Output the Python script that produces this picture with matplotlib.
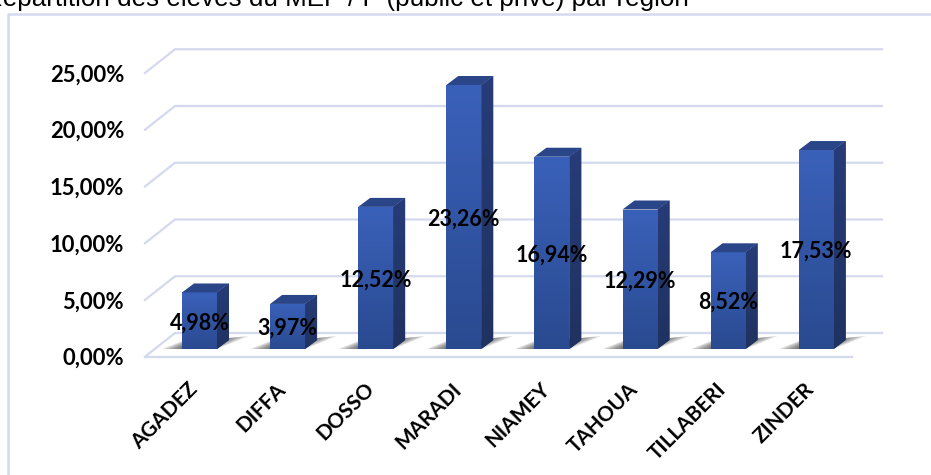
import matplotlib
matplotlib.use('Agg')
import matplotlib.pyplot as plt
import numpy as np
from matplotlib.patches import Polygon

regions = ['AGADEZ', 'DIFFA', 'DOSSO', 'MARADI', 'NIAMEY', 'TAHOUA', 'TILLABERI', 'ZINDER']
values = [4.98, 3.97, 12.52, 23.26, 16.94, 12.29, 8.52, 17.53]
y_ticks = [0, 5, 10, 15, 20, 25]
title = 'Répartition des élèves du MEP / P (public et privé) par région'

W, H = 931, 475
PX_STEP = 88.1   # pixels between two bars
PX_UNIT = 11.35  # pixels for one percent
X0, Y0 = 199.5, 349   # first bar centre, bar foot


def pct(v):
    return ('%.2f%%' % v).replace('.', ',')


plt.rcParams['font.family'] = 'Lato'
fig = plt.figure(figsize=(W / 100, H / 100), dpi=100)
ax = fig.add_axes([0, 0, 1, 1])
ax.axis('off')

dx = lambda px: px / PX_STEP
dy = lambda px: px / PX_UNIT
x_left, x_right = dx(145 - X0), dx(882 - X0)
grid_col = '#d5d9ee'

# frame, runs off the right edge like the original
ax.plot([dx(7.5 - X0), dx(7.5 - X0), dx(W + 5 - X0)], [dy(Y0 - H - 5), dy(Y0 - 14), dy(Y0 - 14)],
        color=grid_col, lw=1.8, zorder=1)

# floor and gridlines
depth_x, depth_y = dx(30), dy(23.7)
front_off = dy(-7.7)
for v in y_ticks:
    ax.plot([x_left, x_left + depth_x, x_right], [v + front_off, v + front_off + depth_y, v + front_off + depth_y],
            color=grid_col, lw=1.6, zorder=1)
    ax.text(x_left - dx(21), v + front_off - dy(2), pct(v), ha='right', va='center',
            fontsize=15.8, fontweight='bold', color='#000000', zorder=5)
ax.plot([x_left, x_right - depth_x], [front_off, front_off], color=grid_col, lw=1.6, zorder=1)

# bars
w = dx(35)
grad = np.linspace(0, 1, 100).reshape(-1, 1)
cmap = matplotlib.colors.LinearSegmentedColormap.from_list('bar', ['#3a61ba', '#2a4a90'])
side_cmap = matplotlib.colors.LinearSegmentedColormap.from_list('side', ['#273c78', '#1f3260'])
ox, oy = dx(12), dy(9)
for i, v in enumerate(values):
    # soft shadow on the floor, stacked polygons shrinking towards the bar
    shadow = np.array([(-w / 2 - dx(20), 0), (w / 2, 0), (w / 2 + dx(32), dy(13)),
                       (w / 2 + dx(10), dy(11)), (-w / 2, dy(8))])
    for k in range(7):
        s = 1 - k * 0.08
        pts = np.column_stack([i + shadow[:, 0] * s, shadow[:, 1] * (0.6 + s * 0.4)])
        ax.add_patch(Polygon(pts, facecolor='#333333', alpha=0.14, lw=0, zorder=2))

    bar = ax.bar(i, v, width=w, color='#3356a8', lw=0, zorder=3)[0]
    im = ax.imshow(grad, cmap=cmap, aspect='auto', extent=(i - w / 2, i + w / 2, 0, v), zorder=3.1)
    im.set_clip_path(bar)
    side = Polygon([(i + w / 2, 0), (i + w / 2 + ox, oy), (i + w / 2 + ox, v + oy), (i + w / 2, v)],
                   facecolor='#24386f', lw=0, zorder=3)
    ax.add_patch(side)
    im2 = ax.imshow(grad, cmap=side_cmap, aspect='auto',
                    extent=(i + w / 2, i + w / 2 + ox, 0, v + oy), zorder=3.1)
    im2.set_clip_path(side)
    ax.add_patch(Polygon([(i - w / 2, v), (i - w / 2 + ox, v + oy), (i + w / 2 + ox, v + oy), (i + w / 2, v)],
                         facecolor='#2a4689', lw=0, zorder=3.2))
    ax.text(i, v / 2 - dy(2), pct(v), ha='center', va='center',
            fontsize=15.5, fontweight='bold', color='#000000', zorder=6)
    ax.text(i - dx(12), dy(-30), regions[i], rotation=45, ha='right', va='top', rotation_mode='anchor',
            fontsize=15, fontweight='bold', color='#000000', zorder=5)

ax.set_xlim((0 - X0) / PX_STEP, (W - X0) / PX_STEP)
ax.set_ylim((Y0 - H) / PX_UNIT, Y0 / PX_UNIT)

fig.text(-16 / W, 1 - 6 / H, title, family='Liberation Sans', fontsize=18.7, color='#000000', ha='left', va='baseline')
fig.savefig('out.png', dpi=100)
